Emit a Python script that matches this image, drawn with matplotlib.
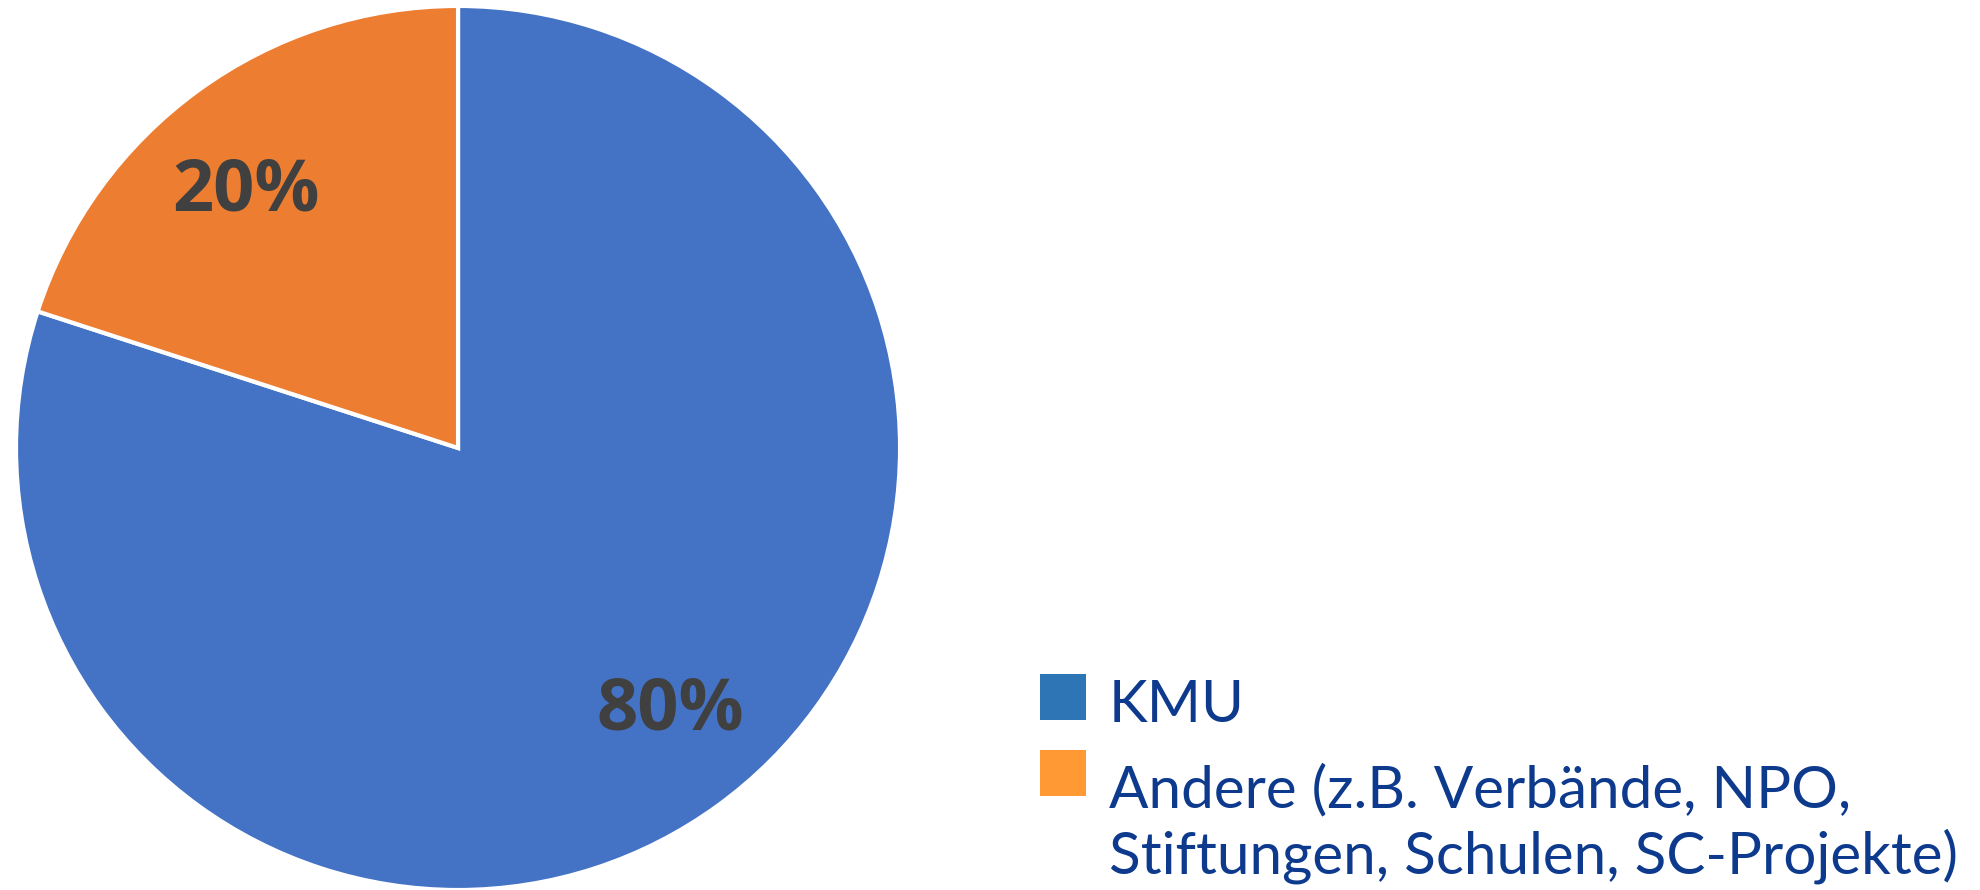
import numpy as np
import matplotlib.pyplot as plt
from matplotlib.patches import Rectangle

labels = ['KMU', 'Andere (z.B. Verbände, NPO,\nStiftungen, Schulen, SC-Projekte)']
shares = [80, 20]
pie_colors = ['#4472C4', '#ED7D31']
legend_colors = ['#2E75B6', '#FF9933']

plt.rcParams['font.family'] = ['Lato', 'DejaVu Sans']

fig = plt.figure(figsize=(19.8, 8.9), dpi=100)
ax = fig.add_axes([0.00808, 0.0, 0.4465, 0.9933])

wedges, texts, autotexts = ax.pie(
    shares, colors=pie_colors, startangle=90, counterclock=False,
    autopct='%d%%', pctdistance=0.76,
    wedgeprops=dict(edgecolor='white', linewidth=3),
    textprops=dict(fontsize=52, fontweight='bold', color='#404040',
                   family=['Open Sans', 'DejaVu Sans']))
ax.set_xlim(-1, 1)
ax.set_ylim(-1, 1)
ax.set_aspect('equal')

# nudge the percent labels a little, like the original layout
for w, t in zip(wedges, autotexts):
    mid = np.deg2rad((w.theta1 + w.theta2) / 2 + 3.3)
    t.set_position((0.758 * np.cos(mid), 0.758 * np.sin(mid) - 0.050))
    t.set_va('baseline')

# legend drawn by hand so the marker sits on the first line
fs = 42
step = 76
x_box, x_txt = 1040, 1109
y = 722  # baseline of the first line, pixels from the top
for lab, col in zip(labels, legend_colors):
    n = lab.count('\n') + 1
    fig.patches.append(Rectangle((x_box, 890 - y + 2), 46, 46, facecolor=col,
                                 edgecolor='none', transform=None))
    y_last = y + step * (n - 1)
    fig.text(x_txt / 1980, 1 - y_last / 890, lab, fontsize=fs, color='#0E3A8E',
             va='baseline', ha='left', linespacing=1.25)
    y += step * n

fig.savefig('out.png', dpi=100)
